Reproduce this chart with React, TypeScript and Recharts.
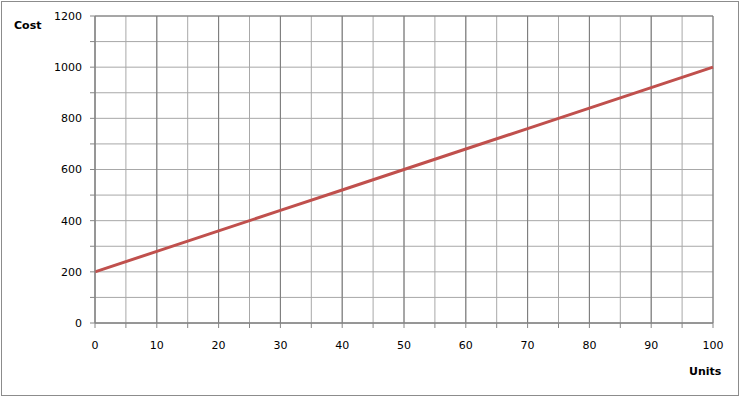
import { LineChart, Line, XAxis, YAxis, CartesianGrid } from "recharts";

const units = [0, 10, 20, 30, 40, 50, 60, 70, 80, 90, 100];
const cost = [200, 280, 360, 440, 520, 600, 680, 760, 840, 920, 1000];

const xMinorTicks = [0, 5, 10, 15, 20, 25, 30, 35, 40, 45, 50, 55, 60, 65, 70, 75, 80, 85, 90, 95, 100];
const xMajorTicks = [0, 10, 20, 30, 40, 50, 60, 70, 80, 90, 100];
const yMinorTicks = [0, 100, 200, 300, 400, 500, 600, 700, 800, 900, 1000, 1100, 1200];
const yMajorTicks = [0, 200, 400, 600, 800, 1000, 1200];

const data = units.map((u, i) => ({ units: u, cost: cost[i] }));

const axisColor = "#868686";
const font = "Tahoma, 'DejaVu Sans', sans-serif";

export default function App() {
  return (
    <div style={{ position: "absolute", left: 0, top: 0, width: 742, height: 402, background: "#fff" }}>
      <div
        style={{
          position: "absolute",
          left: 1,
          top: 1,
          width: 736,
          height: 393,
          border: "1px solid #8c8c8c",
        }}
      />
      <LineChart
        width={742}
        height={402}
        data={data}
        margin={{ top: 16, right: 29, left: 35, bottom: 49 }}
        style={{ position: "absolute", left: 0, top: 0 }}
      >
        <CartesianGrid stroke="#a8a8a8" />
        <CartesianGrid xAxisId="major" yAxisId="major" stroke="#7a7a7a" />
        <XAxis
          dataKey="units"
          type="number"
          domain={[0, 100]}
          ticks={xMinorTicks}
          interval={0}
          tickFormatter={(v) => (v % 10 === 0 ? String(v) : "")}
          tickSize={5}
          tickMargin={13}
          height={30}
          stroke={axisColor}
          tick={{ fill: "#000", fontSize: 11, fontFamily: font }}
        />
        <XAxis xAxisId="major" dataKey="units" type="number" domain={[0, 100]} ticks={xMajorTicks} hide />
        <YAxis
          type="number"
          domain={[0, 1200]}
          ticks={yMinorTicks}
          interval={0}
          tickFormatter={(v) => (v % 200 === 0 ? String(v) : "")}
          tickSize={5}
          tickMargin={8}
          width={60}
          stroke={axisColor}
          tick={{ fill: "#000", fontSize: 11, fontFamily: font }}
        />
        <YAxis yAxisId="major" type="number" domain={[0, 1200]} ticks={yMajorTicks} hide />
        <Line
          dataKey="cost"
          stroke="#c0504d"
          strokeWidth={3}
          dot={false}
          isAnimationActive={false}
        />
      </LineChart>
      <span
        style={{
          position: "absolute",
          left: 14,
          top: 19,
          fontFamily: font,
          fontSize: 11,
          fontWeight: "bold",
        }}
      >
        Cost
      </span>
      <span
        style={{
          position: "absolute",
          left: 689,
          top: 365,
          fontFamily: font,
          fontSize: 11,
          fontWeight: "bold",
        }}
      >
        Units
      </span>
    </div>
  );
}
